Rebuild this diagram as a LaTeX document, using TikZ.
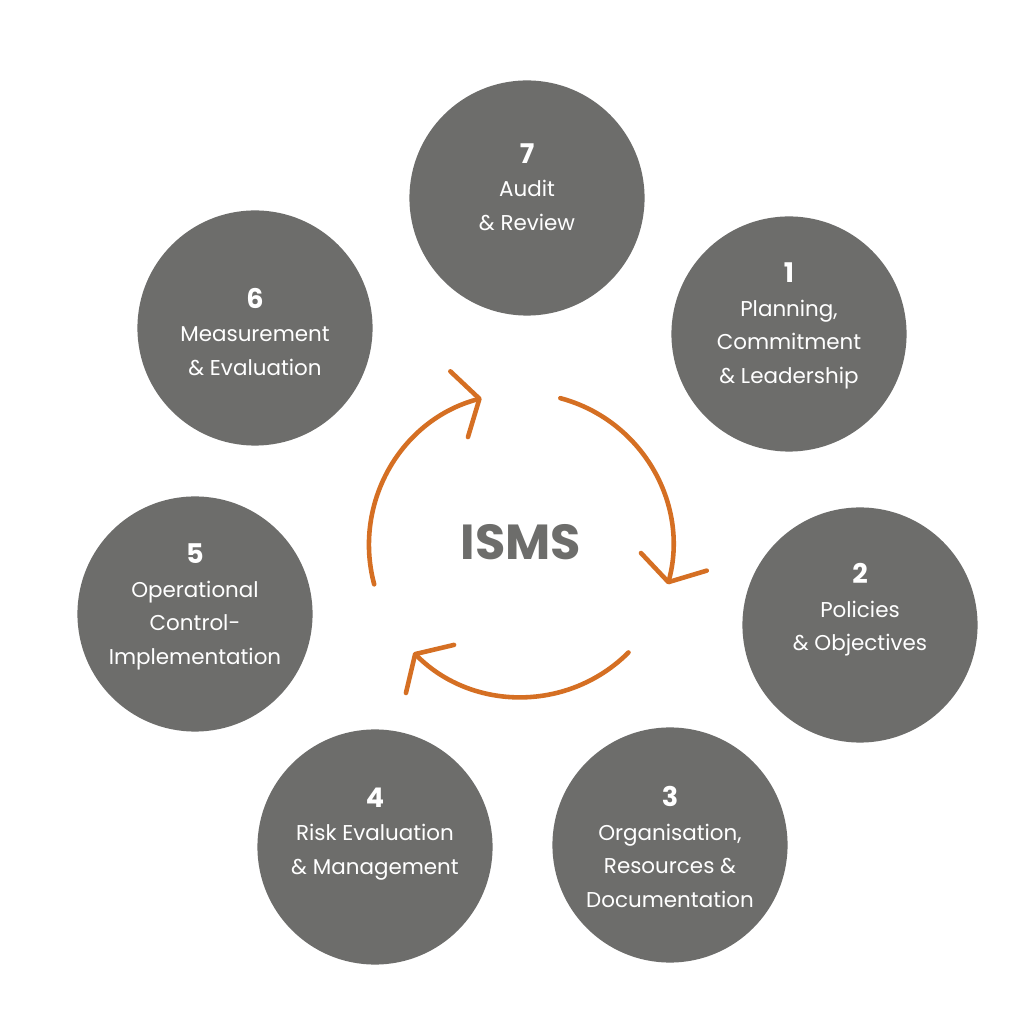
\documentclass[tikz,border=0pt]{standalone}
\usepackage{fontspec}
\setmainfont{Poppins}
\usetikzlibrary{arrows.meta}

\definecolor{stepgray}{HTML}{6D6D6B}
\definecolor{cycleorange}{HTML}{D56F23}

\tikzset{
  stepcircle/.style={circle, fill=stepgray, minimum size=2.35cm, inner sep=0pt},
  steptext/.style={text=white, align=center, inner sep=0pt,
    font=\fontsize{6.1}{9.5}\selectfont},
  cyclearrow/.style={cycleorange, line width=1.3pt, line cap=round,
    -{Straight Barb[length=0.21cm, width=0.68cm, round]}}
}
\newcommand{\stepnum}[1]{{\fontsize{7.7}{9.5}\selectfont\bfseries #1}}

\begin{document}
\begin{tikzpicture}[x=0.01cm, y=0.01cm]
  \fill[white] (0,0) rectangle (1024,1024);
  \useasboundingbox (0,0) rectangle (1024,1024);

  % the seven steps
  \node[stepcircle] (c1) at (789,690) {};
  \node[stepcircle] (c2) at (860,399) {};
  \node[stepcircle] (c3) at (670,179) {};
  \node[stepcircle] (c4) at (375,177) {};
  \node[stepcircle] (c5) at (195,410) {};
  \node[stepcircle] (c6) at (255,696) {};
  \node[stepcircle] (c7) at (527,826) {};

  \node[steptext] (t1) at (789,698) {\stepnum{1}\\Planning,\\Commitment\\\& Leadership};
  \node[steptext] (t2) at (860,414) {\stepnum{2}\\Policies\\\& Objectives};
  \node[steptext] (t3) at (670,177) {\stepnum{3}\\Organisation,\\Resources \&\\Documentation};
  \node[steptext] (t4) at (375,190) {\stepnum{4}\\Risk Evaluation\\\& Management};
  \node[steptext] (t5) at (195,417) {\stepnum{5}\\Operational\\Control-\\Implementation};
  \node[steptext] (t6) at (255,692) {\stepnum{6}\\Measurement\\\& Evaluation};
  \node[steptext] (t7) at (527,837) {\stepnum{7}\\Audit\\\& Review};

  % cycle in the middle
  \coordinate (ctr) at (521,479);
  \node[text=stepgray, inner sep=0pt, font=\fontsize{14}{14}\selectfont\bfseries] (isms) at (521,482) {ISMS};

  \begin{scope}[cyclearrow]
    \draw (ctr) ++(75:152) arc[start angle=75, end angle=-15, radius=152];
    \draw (ctr) ++(-45:152) arc[start angle=-45, end angle=-135, radius=152];
    \draw (ctr) ++(195:152) arc[start angle=195, end angle=105, radius=152];
  \end{scope}
\end{tikzpicture}
\end{document}
